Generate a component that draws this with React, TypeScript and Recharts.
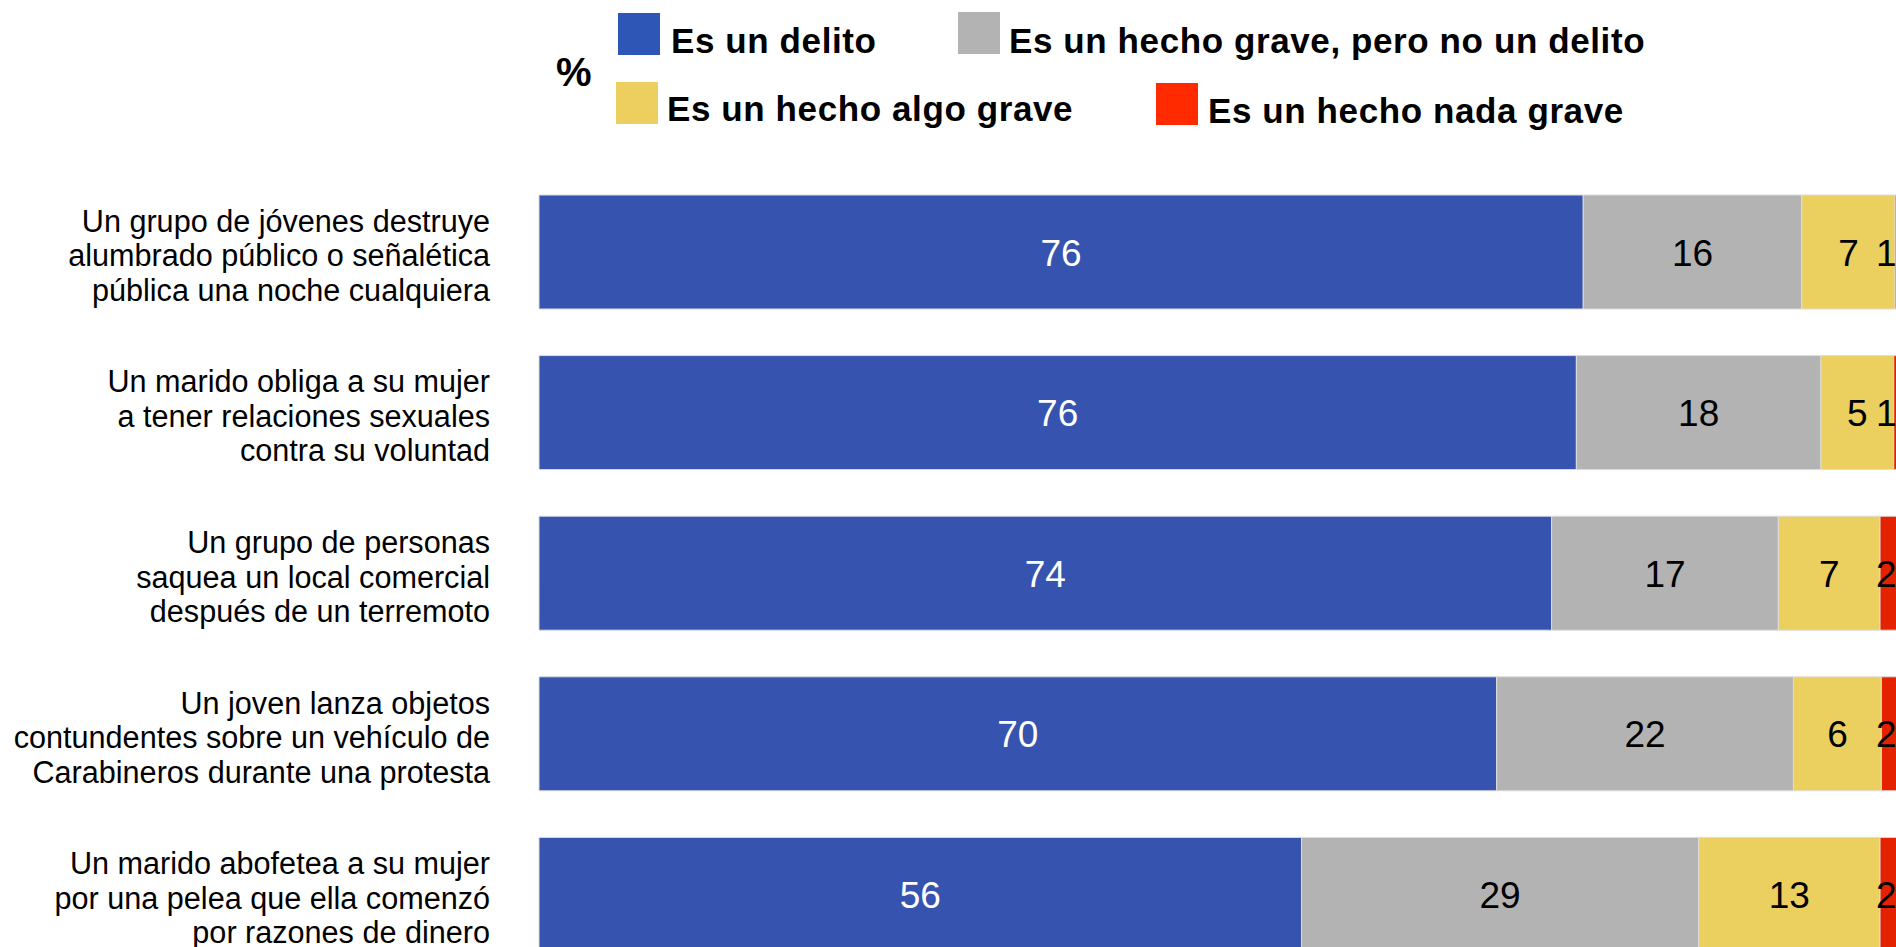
import { BarChart, Bar, XAxis, YAxis, LabelList } from "recharts";

// rows, top to bottom (each label is split into its printed lines)
const categories = [
  ["Un grupo de jóvenes destruye", "alumbrado público o señalética", "pública una noche cualquiera"],
  ["Un marido obliga a su mujer", "a tener relaciones sexuales", "contra su voluntad"],
  ["Un grupo de personas", "saquea un local comercial", "después de un terremoto"],
  ["Un joven lanza objetos", "contundentes sobre un vehículo de", "Carabineros durante una protesta"],
  ["Un marido abofetea a su mujer", "por una pelea que ella comenzó", "por razones de dinero"],
];

// shares; printed rounded, as in the original
const delito = [76.0, 75.5, 73.7, 69.7, 55.5];
const graveNoDelito = [15.9, 17.8, 16.5, 21.6, 28.9];
const algoGrave = [6.8, 5.3, 7.4, 6.4, 13.2];
const nadaGrave = [1.3, 1.4, 2.4, 2.3, 2.4];

const seriesKeys = ["delito", "grave", "algo", "nada"];
const seriesNames = [
  "Es un delito",
  "Es un hecho grave, pero no un delito",
  "Es un hecho algo grave",
  "Es un hecho nada grave",
];
const barColors = ["#3653AF", "#B3B3B3", "#EBD05F", "#E52200"];
const legendColors = ["#2E56B6", "#B3B3B3", "#EDCF5F", "#FF2A00"];
const labelColors = ["#FFFFFF", "#000000", "#000000", "#000000"];

const FONT = '"Liberation Sans", Arial, Helvetica, sans-serif';

const data = categories.map((lines, i) => ({
  name: lines.join(" "),
  delito: delito[i],
  grave: graveNoDelito[i],
  algo: algoGrave[i],
  nada: nadaGrave[i],
}));

// legend slots: [square x, square y, text x, text baseline]
const legendSlots = [
  [618, 13, 671, 53],
  [958, 12, 1009, 53],
  [616, 82, 667, 121],
  [1156, 83, 1208, 123],
];

function CategoryTick(props: any) {
  const { y, payload, index } = props;
  const lines = categories[index ?? payload.index] ?? [payload.value];
  return (
    <text
      x={490}
      y={y}
      textAnchor="end"
      fontFamily={FONT}
      fontSize={30.6}
      fill="#000000"
    >
      {lines.map((ln: string, i: number) => (
        <tspan key={i} x={490} y={y + 14 + (i - 1) * 34.5}>
          {ln}
        </tspan>
      ))}
    </text>
  );
}

function makeValueLabel(seriesIndex: number) {
  return (props: any) => {
    const { x, y, width, height, value } = props;
    const isLast = seriesIndex === 3;
    // the thin last segment gets its number pulled in from the bar end
    const tx = isLast ? x + width - 37 : x + width / 2;
    return (
      <text
        x={tx}
        y={y + height / 2 + 13.5}
        textAnchor={isLast ? "start" : "middle"}
        fontFamily={FONT}
        fontSize={37}
        fill={labelColors[seriesIndex]}
      >
        {Math.round(value)}
      </text>
    );
  };
}

export default function App() {
  return (
    <div
      style={{
        position: "fixed",
        top: 0,
        left: 0,
        width: 1896,
        height: 947,
        overflow: "hidden",
        background: "#FFFFFF",
      }}
    >
      <svg
        width={1896}
        height={140}
        style={{ position: "absolute", top: 0, left: 0 }}
      >
        <text x={556} y={86} fontFamily={FONT} fontWeight="bold" fontSize={40} fill="#000">
          %
        </text>
        {seriesNames.map((name, i) => {
          const [sx, sy, tx, ty] = legendSlots[i];
          return (
            <g key={name}>
              <rect x={sx} y={sy} width={42} height={42} fill={legendColors[i]} />
              <text
                x={tx}
                y={ty}
                fontFamily={FONT}
                fontWeight="bold"
                fontSize={35}
                letterSpacing={0.6}
                fill="#000"
              >
                {name}
              </text>
            </g>
          );
        })}
      </svg>

      <div style={{ position: "absolute", top: 0, left: 0 }}>
        <BarChart
          width={1913}
          height={975}
          data={data}
          layout="vertical"
          margin={{ top: 172, right: 0, bottom: 0, left: 0 }}
          barSize={114}
        >
          <XAxis type="number" domain={[0, 100]} hide />
          <YAxis
            type="category"
            dataKey="name"
            width={539}
            axisLine={false}
            tickLine={false}
            interval={0}
            tick={<CategoryTick />}
          />
          {seriesKeys.map((key, i) => (
            <Bar
              key={key}
              dataKey={key}
              name={seriesNames[i]}
              stackId="a"
              fill={barColors[i]}
              stroke="#DCDCDC"
              strokeWidth={1}
              isAnimationActive={false}
            >
              <LabelList dataKey={key} content={makeValueLabel(i)} />
            </Bar>
          ))}
        </BarChart>
      </div>
    </div>
  );
}
